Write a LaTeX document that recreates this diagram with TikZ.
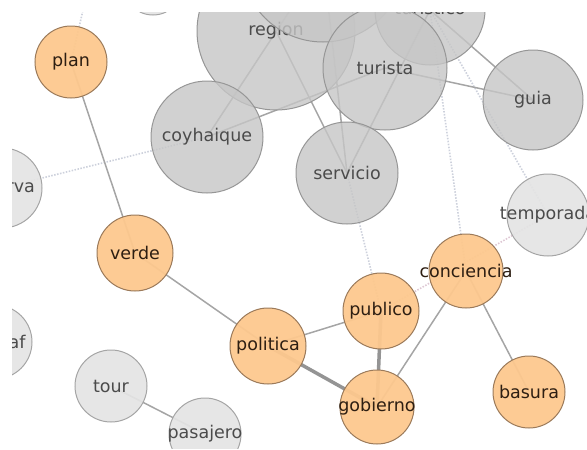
\documentclass[tikz,border=0pt]{standalone}
\usepackage{fontspec}
\setmainfont{DejaVu Sans}
\usetikzlibrary{shapes,positioning}
\definecolor{nwgrey}{RGB}{198,198,198}
\definecolor{nwgreyline}{RGB}{150,150,150}
\definecolor{nwgreytext}{RGB}{75,75,75}
\definecolor{nwfaint}{RGB}{228,228,228}
\definecolor{nwfaintline}{RGB}{165,165,165}
\definecolor{nworange}{RGB}{253,200,142}
\definecolor{nworangeline}{RGB}{155,122,90}
\definecolor{nworangetext}{RGB}{45,30,18}
\definecolor{nwlink}{RGB}{165,165,165}
\definecolor{nwdots}{RGB}{205,209,220}
\definecolor{nwpink}{RGB}{222,200,212}
\tikzstyle{term} = [circle, inner sep=0pt, line width=1pt, font=\fontsize{17.5}{20}\selectfont, text opacity=1]
\tikzstyle{hub} = [term, draw=nwgreyline, fill=nwgrey, fill opacity=0.8, text=nwgreytext]
\tikzstyle{faint} = [term, draw=nwfaintline, fill=nwfaint, fill opacity=0.92, text=nwgreytext]
\tikzstyle{topic} = [term, draw=nworangeline, fill=nworange, fill opacity=0.95, text=nworangetext]
\tikzstyle{link} = [line width=1.5pt, color=nwlink]
\tikzstyle{strong} = [line width=3.5pt, color=nwlink!90!black]
\tikzstyle{weak} = [line width=1.6pt, color=nwdots, dash pattern=on 1.5pt off 1.5pt]
\newcommand{\word}[1]{\makebox[0pt]{#1}}
\pgfdeclarelayer{edgelayer}
\pgfsetlayers{edgelayer,main}

\begin{document}
\begin{tikzpicture}[x=1pt, y=-1pt]
\useasboundingbox (0,0) rectangle (587,450);
\clip (12,12) rectangle (587,448);
% Nodes
\node (corner) [faint, minimum size=60pt] at (153,-15) {};
\node (region) [hub, minimum size=158pt] at (276,31) {\word{region}};
\node (above) [hub, minimum size=164pt] at (323,-40) {};
\node (turistico) [hub, minimum size=110pt] at (430,10) {\word{\raisebox{5pt}{turistico}}};
\node (turista) [hub, minimum size=124pt] at (385,68) {\word{turista}};
\node (coyhaique) [hub, minimum size=112pt] at (207,137) {\word{coyhaique}};
\node (servicio) [hub, minimum size=102pt] at (347,173) {\word{servicio}};
\node (guia) [hub, minimum size=100pt] at (533,100) {\word{guia}};
\node (temporada) [faint, minimum size=82pt] at (548,215) {\word{temporada}};
\node (reserva) [faint, minimum size=80pt] at (2,188) {\word{reserva}};
\node (af) [faint, minimum size=74pt, label={[xshift=22pt, text=nwgreytext, font=\fontsize{17.5}{20}\selectfont]center:af}] at (-5,342) {};
\node (tour) [faint, minimum size=72pt] at (111,386) {\word{tour}};
\node (pasajero) [faint, minimum size=72pt] at (205,434) {\word{pasajero}};
\node (plan) [topic, minimum size=72pt] at (71,62) {\word{plan}};
\node (verde) [topic, minimum size=76pt] at (135,253) {\word{verde}};
\node (politica) [topic, minimum size=76pt] at (268,346) {\word{politica}};
\node (publico) [topic, minimum size=76pt] at (381,311) {\word{publico}};
\node (conciencia) [topic, minimum size=74pt] at (466,271) {\word{conciencia}};
\node (gobierno) [topic, minimum size=74pt] at (377,407) {\word{gobierno}};
\node (basura) [topic, minimum size=72pt] at (529,392) {\word{basura}};
\coordinate (offtop) at (90,-20);

% Edges
\begin{pgfonlayer}{edgelayer}
\begin{scope}
\clip (12,12) rectangle (587,448);
\draw[weak] (plan.center) -- (offtop);
\draw[weak] (coyhaique.center) -- (reserva.center);
\draw[weak] (servicio.center) -- (publico.center);
\draw[weak] (turistico.center) -- (conciencia.center);
\draw[weak] (turistico.center) -- (temporada.center);
\draw[weak, color=nwpink] (publico.center) -- (temporada.center);
\draw[link] (plan.center) -- (verde.center);
\draw[link] (verde.center) -- (politica.center);
\draw[link] (politica.center) -- (publico.center);
\draw[strong] (politica.center) -- (gobierno.center);
\draw[strong] (publico.center) -- (gobierno.center);
\draw[link] (gobierno.center) -- (conciencia.center);
\draw[link] (conciencia.center) -- (basura.center);
\draw[link] (tour.center) -- (pasajero.center);
\draw[link] (coyhaique.center) -- (above.center);
\draw[link] (coyhaique.center) -- (turista.center);
\draw[link] (servicio.center) -- (region.center);
\draw[link] (servicio.center) -- (above.center);
\draw[link] (servicio.center) -- (turistico.center);
\draw[link] (turistico.center) -- (guia.center);
\draw[link] (turista.center) -- (guia.center);
\end{scope}
\end{pgfonlayer}
\end{tikzpicture}
\end{document}
